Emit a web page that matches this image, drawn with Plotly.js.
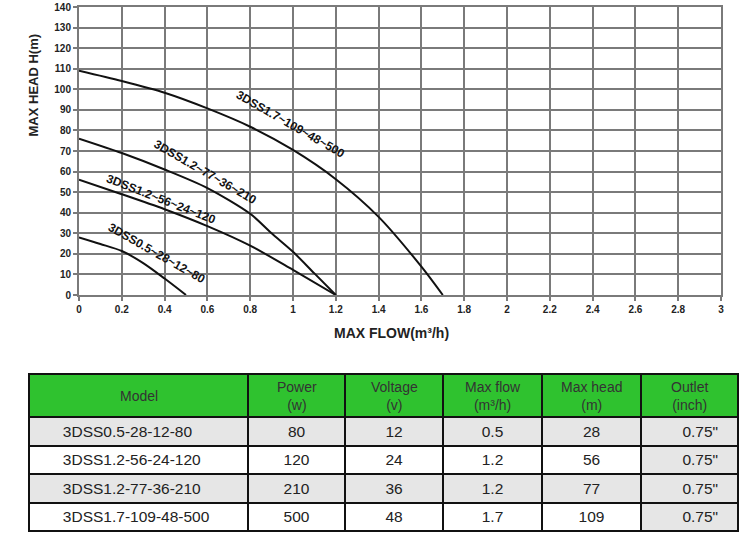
<!DOCTYPE html>
<html>
<head>
<meta charset="utf-8">
<script src="https://cdn.plot.ly/plotly-3.0.1.min.js"></script>
<style>
html,body{margin:0;padding:0;background:#fff;}
#chart{width:750px;height:536px;}
</style>
</head>
<body>
<div id="chart"></div>
<script>
// Curve data (flow m3/h, head m)
const flow0 = [0, 0.1, 0.2, 0.3, 0.4, 0.5];
const head0 = [28, 24.8, 21.4, 15.5, 8, 0];
const flow1 = [0, 0.2, 0.4, 0.6, 0.8, 1.0, 1.2];
const head1 = [56, 49, 41.7, 33.5, 24, 12.2, 0];
const flow2 = [0, 0.2, 0.4, 0.6, 0.8, 0.9, 1.0, 1.1, 1.2];
const head2 = [76, 69, 61, 52, 39.5, 30, 21, 10.5, 0];
const flow3 = [0, 0.2, 0.4, 0.6, 0.8, 1.0, 1.2, 1.4, 1.6, 1.7];
const head3 = [109, 104, 98.3, 90.7, 81.8, 70.5, 56.3, 38, 13.8, 0];

const curveLabels = ["3DSS0.5~28~12~80", "3DSS1.2~56~24~120", "3DSS1.2~77~36~210", "3DSS1.7~109~48~500"];

// Table data
const headerTop = ["Model", "Power", "Voltage", "Max flow", "Max head", "Outlet"];
const headerBottom = ["", "(w)", "(v)", "(m³/h)", "(m)", "(inch)"];
const models = ["3DSS0.5-28-12-80", "3DSS1.2-56-24-120", "3DSS1.2-77-36-210", "3DSS1.7-109-48-500"];
const powers = ["80", "120", "210", "500"];
const voltages = ["12", "24", "36", "48"];
const maxFlows = ["0.5", "1.2", "1.2", "1.7"];
const maxHeads = ["28", "56", "77", "109"];
const outlets = ["0.75\"", "0.75\"", "0.75\"", "0.75\""];

const FONT = 'Liberation Sans, Arial, sans-serif';
const lineStyle = {color: '#111', width: 2, shape: 'spline', smoothing: 0.8};
function curve(x, y) {
  return {type: 'scatter', mode: 'lines', x: x, y: y, line: lineStyle, hoverinfo: 'skip', showlegend: false, xaxis: 'x', yaxis: 'y'};
}

const colWidths = [219, 97, 98, 99, 99, 97];
const G = '#e6e6e6', W = '#ffffff';
const pad = '\u00a0\u00a0\u00a0\u00a0\u00a0\u00a0';
const table = {
  type: 'table',
  domain: {x: [0, 1], y: [0.003, 0.3062]},
  columnwidth: colWidths,
  header: {
    values: headerTop.map(() => ''),
    height: 43,
    fill: {color: '#2fc22f'},
    line: {color: '#111', width: 2},
    font: {family: FONT, size: 15, color: '#333'}
  },
  cells: {
    values: [models.map(m => pad + m), powers, voltages, maxFlows, maxHeads, outlets.map(o => '\u00a0\u00a0\u00a0\u00a0\u00a0' + o)],
    align: ['left', 'center', 'center', 'center', 'center', 'center'],
    height: 28.6,
    fill: {color: [[G, W, G, W], [G, W, G, W], [G, W, G, W], [G, W, G, W], [G, W, G, W], [G, G, G, G]]},
    line: {color: '#111', width: 2},
    font: {family: FONT, size: 15.5, color: '#222'}
  }
};

// Page geometry (pixels) -> paper coordinates
const M = {l: 29, r: 12, t: 7, b: 0};
const PW = 750 - M.l - M.r, PH = 536 - M.t - M.b;
const px2x = px => (px - M.l) / PW;
const py2y = py => (536 - M.b - py) / PH;

const headerAnn = [];
let cum = 0;
const totalW = colWidths.reduce((a, b) => a + b, 0);
headerTop.forEach((t, i) => {
  const cx = (cum + colWidths[i] / 2) / totalW;
  cum += colWidths[i];
  const txt = headerBottom[i] ? t + '<br>' + headerBottom[i] : t;
  headerAnn.push({xref: 'paper', yref: 'paper', x: cx, y: py2y(396), text: txt, showarrow: false,
    xanchor: 'center', yanchor: 'middle', align: 'center', font: {family: FONT, size: 14, color: '#333'}});
});

const gridC = '#7a7a7a';
const tickFont = {family: FONT, size: 10, color: '#222', weight: 'bold'};
const labFont = {family: FONT, size: 12, color: '#111', weight: 'bold'};

const layout = {
  width: 750, height: 536,
  margin: M,
  paper_bgcolor: '#fff', plot_bgcolor: '#fff',
  showlegend: false,
  hovermode: false,
  xaxis: {
    domain: [px2x(79), px2x(721)],
    range: [0, 3], dtick: 0.2, tick0: 0,
    showgrid: true, gridcolor: gridC, gridwidth: 2,
    zeroline: false,
    showline: true, linecolor: gridC, linewidth: 2, mirror: true,
    ticks: 'outside', ticklen: 4, tickwidth: 2, tickcolor: gridC,
    tickfont: tickFont, fixedrange: true
  },
  yaxis: {
    domain: [py2y(295), 1],
    range: [0, 140], dtick: 10, tick0: 0,
    showgrid: true, gridcolor: gridC, gridwidth: 2,
    zeroline: false,
    showline: true, linecolor: gridC, linewidth: 2, mirror: true,
    ticks: 'outside', ticklen: 4, tickwidth: 2, tickcolor: gridC,
    tickfont: tickFont, fixedrange: true
  },
  annotations: [
    {xref: 'paper', yref: 'paper', x: px2x(33.5), y: py2y(85), text: 'MAX HEAD H(m)', showarrow: false, textangle: -90,
     xanchor: 'center', yanchor: 'middle', font: {family: FONT, size: 13, color: '#222', weight: 'bold'}},
    {xref: 'paper', yref: 'paper', x: px2x(391), y: py2y(333), text: 'MAX FLOW(m³/h)', showarrow: false,
     xanchor: 'center', yanchor: 'middle', font: {family: FONT, size: 14, color: '#222', weight: 'bold'}},
    {xref: 'x', yref: 'y', x: 0.361, y: 20.3, text: curveLabels[0], showarrow: false, textangle: 29.5, font: labFont},
    {xref: 'x', yref: 'y', x: 0.382, y: 46.6, text: curveLabels[1], showarrow: false, textangle: 21.4, font: labFont},
    {xref: 'x', yref: 'y', x: 0.589, y: 59.6, text: curveLabels[2], showarrow: false, textangle: 29.9, font: labFont},
    {xref: 'x', yref: 'y', x: 0.986, y: 82.9, text: curveLabels[3], showarrow: false, textangle: 29.7, font: labFont}
  ].concat(headerAnn)
};

Plotly.newPlot('chart', [curve(flow0, head0), curve(flow1, head1), curve(flow2, head2), curve(flow3, head3), table], layout, {displayModeBar: false, staticPlot: true});
</script>
</body>
</html>
